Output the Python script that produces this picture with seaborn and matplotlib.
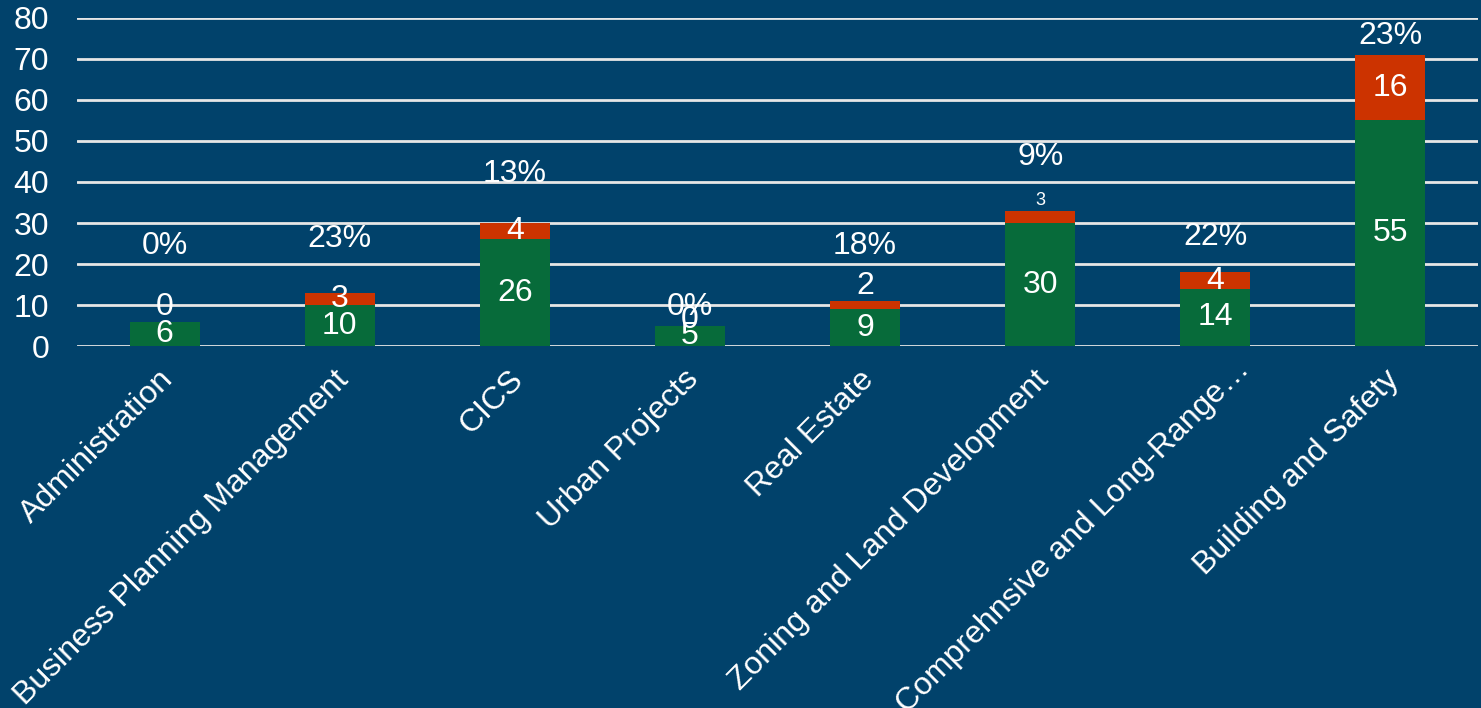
import numpy as np
import pandas as pd
import matplotlib
matplotlib.use("Agg")
import matplotlib.pyplot as plt
import matplotlib.transforms as mtransforms
import seaborn as sns

# Data
divisions = ["Administration", "Business Planning Management", "CICS", "Urban Projects",
             "Real Estate", "Zoning and Land Development", "Comprehnsive and Long-Range\u2026",
             "Building and Safety"]
green_vals = [6, 10, 26, 5, 9, 30, 14, 55]
red_vals = [0, 3, 4, 0, 2, 3, 4, 16]
pct_labels = ["0%", "23%", "13%", "0%", "18%", "9%", "22%", "23%"]

# label placement as in the original slide
pct_label_y = [24.5, 26, 42, 9.5, 24.5, 46, 26.5, 75.5]   # data units
red_label_y = [9.5, None, None, 6.3, 14.6, 35.4, None, None]
red_label_size = [23, 23, 23, 23, 23, 13, 23, 23]
xlab_dx = [4, 4, 4, 4, 4, 4, 30, 4]      # pixels
xlab_dy = [-29, -29, -29, -29, -29, -29, -19, -29]

BG = "#01426B"
GREEN = "#076B3A"
RED = "#CC3300"

df = pd.DataFrame({"division": divisions, "green": green_vals, "red": red_vals})
df["total"] = df["green"] + df["red"]

sns.set_style("white")
plt.rcParams["font.family"] = ["Liberation Sans", "DejaVu Sans"]

fig = plt.figure(figsize=(14.81, 7.08), dpi=100, facecolor=BG)
ax = fig.add_axes([0.052, 0.511, 0.946, 0.464])
ax.set_facecolor(BG)

# stacked bars: total in red, green drawn over it
sns.barplot(data=df, x="division", y="total", color=RED, width=0.4, saturation=1,
            linewidth=0, edgecolor="none", ax=ax, zorder=3)
sns.barplot(data=df, x="division", y="green", color=GREEN, width=0.4, saturation=1,
            linewidth=0, edgecolor="none", ax=ax, zorder=3)

ax.set_ylim(0, 80)
ax.set_xlim(-0.5, len(divisions) - 0.5)
ax.set_yticks(range(0, 81, 10))
ax.yaxis.grid(True, color="#E6E6E6", linewidth=2, zorder=0)
ax.set_axisbelow(True)
for s in ax.spines.values():
    s.set_visible(False)
ax.set_xlabel("")
ax.set_ylabel("")
ax.tick_params(axis="y", length=0, pad=20, labelsize=23, labelcolor="white")
ax.tick_params(axis="x", length=0, labelbottom=False)

# category labels, rotated, end of text under the bar
base = ax.get_xaxis_transform()
for i, name in enumerate(divisions):
    tr = mtransforms.offset_copy(base, fig=fig, x=xlab_dx[i], y=xlab_dy[i], units="dots")
    ax.text(i, 0, name, transform=tr, color="white", fontsize=23, rotation=45,
            ha="right", va="center", rotation_mode="anchor", clip_on=False)

for i in range(len(divisions)):
    g = green_vals[i]
    r = red_vals[i]
    ax.text(i, g / 2, str(g), color="white", fontsize=23, ha="center", va="center", zorder=5)
    ry = red_label_y[i] if red_label_y[i] is not None else g + r / 2
    ax.text(i, ry, str(r), color="white", fontsize=red_label_size[i], ha="center", va="center", zorder=5)
    ax.text(i, pct_label_y[i], pct_labels[i], color="white", fontsize=23, ha="center", va="center", zorder=5)

fig.savefig("out.png", dpi=100, facecolor=BG)
